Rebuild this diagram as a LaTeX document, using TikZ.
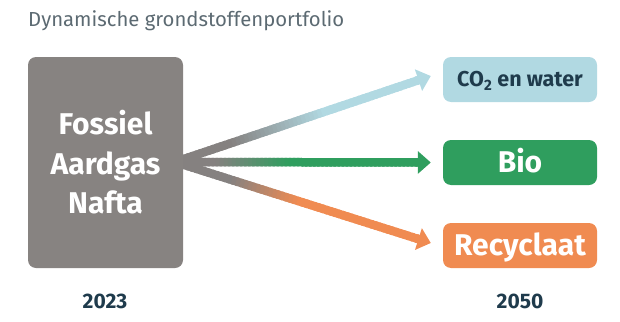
\documentclass[tikz,border=0pt]{standalone}
\usepackage{fontspec}
\setmainfont{Fira Sans}
\usetikzlibrary{arrows.meta,calc}
\definecolor{boxgray}{HTML}{878381}
\definecolor{arrowgray}{HTML}{858180}
\definecolor{lightblue}{HTML}{B1D9E2}
\definecolor{biogreen}{HTML}{2F9E5E}
\definecolor{recorange}{HTML}{F08B51}
\definecolor{darktext}{HTML}{1F3B4C}
\definecolor{titlegray}{HTML}{5C6A72}
\tikzset{
  srcbox/.style={rectangle, rounded corners=8pt, fill=boxgray, minimum width=155pt, minimum height=211pt, inner sep=0pt, text=white, align=center, font=\fontsize{30}{39.5}\selectfont\bfseries},
  tbox/.style={rectangle, rounded corners=8pt, minimum width=154pt, minimum height=45pt, inner sep=0pt, text depth=0pt},
  bigtxt/.style={font=\fontsize{30}{36}\selectfont\bfseries, text=white, text height=20.7pt},
  smalltxt/.style={font=\fontsize{21.5}{25}\selectfont\bfseries, text=darktext, text height=14.8pt},
  yeartxt/.style={inner sep=0pt, text height=14.5pt, text depth=0pt, font=\fontsize{21}{25}\selectfont\bfseries, text=darktext},
}
\newcommand\gradarrow[5]{%
  \foreach \i in {0,...,59}{%
    \pgfmathsetmacro\f{max(0,min(100,(\i/60-#4)/#5*100))}%
    \draw[line width=8.5pt, color=#3!\f!arrowgray] ($(#1)!\i/60!($(#2)!12pt!(#1)$)$) -- ($(#1)!{(\i+1.6)/60}!($(#2)!12pt!(#1)$)$);
  }%
  \draw[#3, line width=8.5pt, -{Triangle[length=13pt,width=22pt]}] ($(#2)!15pt!(#1)$) -- (#2);
}
\begin{document}
\begin{tikzpicture}[x=1pt,y=-1pt]
\useasboundingbox (0,0) rectangle (620,321);
\node[anchor=base west, inner sep=0pt, font=\fontsize{20.3}{24}\selectfont, text=titlegray] (title) at (28,27) {Dynamische grondstoffenportfolio};
% target boxes
\node[tbox, fill=lightblue, smalltxt] (co2) at (520,79.5) {CO\textsubscript{2} en water};
\node[tbox, fill=biogreen, bigtxt] (bio) at (520,162.5) {Bio};
\node[tbox, fill=recorange, bigtxt] (rec) at (520,245.5) {Recyclaat};
% arrows
\coordinate (o) at (175,162);
\coordinate (t1) at ($(co2.west)+(-12,-3.5)$);
\coordinate (t2) at ($(bio.west)+(-12,0)$);
\coordinate (t3) at ($(rec.west)+(-12,-2.5)$);
\gradarrow{o}{t1}{lightblue}{0.22}{0.38}
\gradarrow{o}{t3}{recorange}{0.22}{0.28}
\gradarrow{o}{t2}{biogreen}{0.16}{0.30}
% source box
\node[srcbox] (src) at (105.5,162.5) {Fossiel\\Aardgas\\Nafta};
% years
\node[yeartxt] (y1) at (105,301.5) {2023};
\node[yeartxt] (y2) at (520,301.5) {2050};
\end{tikzpicture}
\end{document}
